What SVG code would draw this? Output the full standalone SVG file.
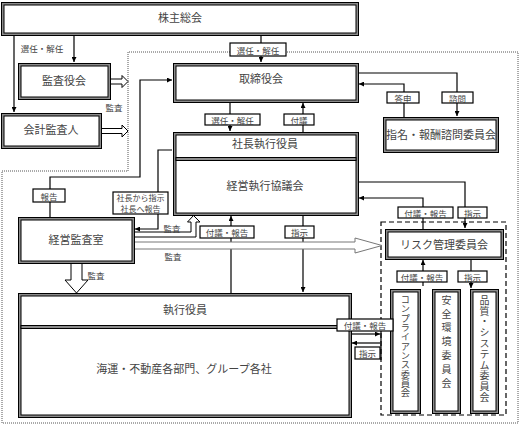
<svg xmlns="http://www.w3.org/2000/svg" width="519" height="424" viewBox="0 0 519 424">
<style>
.o{fill:#8c8c8c;stroke:#000;stroke-width:1}
.i{fill:#fff;stroke:#000;stroke-width:1}
.t{font-family:"Noto Sans CJK JP","Noto Sans",sans-serif;fill:#444;text-anchor:middle;dominant-baseline:central}
.m{font-size:11px}
.s{font-size:8.5px}
.lb{fill:#fff;stroke:#000;stroke-width:1.2}
.c{fill:none;stroke:#000;stroke-width:1.2}
.h{fill:#fff;stroke:#000;stroke-width:1}
.v{font-family:"Noto Sans CJK JP",sans-serif;fill:#444;font-size:10px;writing-mode:vertical-rl;text-anchor:start}
</style>
<defs>
<marker id="a" viewBox="0 0 6 6" refX="6" refY="3" markerWidth="5" markerHeight="5" orient="auto" markerUnits="userSpaceOnUse"><path d="M0,0L6,3L0,6z" fill="#000"/></marker>
</defs>
<rect width="519" height="424" fill="#fff"/>
<path d="M2,423V171H128V52H518V423Z" fill="none" stroke="#555" stroke-width="1" stroke-dasharray="1,1"/>
<rect x="381" y="222" width="125" height="193" fill="none" stroke="#000" stroke-width="1.2" stroke-dasharray="5,3"/>

<g id="connectors">
<path class="c" d="M14,35V112" marker-end="url(#a)"/>
<path class="c" d="M74,35V62" marker-end="url(#a)"/>
<path class="c" d="M261,35V62" marker-end="url(#a)"/>
<path class="c" d="M230,102V131" marker-end="url(#a)"/>
<path class="c" d="M303,132V103" marker-end="url(#a)"/>
<path class="c" d="M358,73H457V116" marker-end="url(#a)"/>
<path class="c" d="M404,117V84H359" marker-end="url(#a)"/>
<path class="c" d="M358,182H465V228" marker-end="url(#a)"/>
<path class="c" d="M423,229V198H359" marker-end="url(#a)"/>
<path class="c" d="M471,259V288" marker-end="url(#a)"/>
<path class="c" d="M423,286V260" marker-end="url(#a)"/>
<path class="c" d="M303,215V292" marker-end="url(#a)"/>
<path class="c" d="M231,293V216" marker-end="url(#a)"/>
<path class="c" d="M351,334H380" marker-end="url(#a)"/>
<path class="c" d="M380,343H352" marker-end="url(#a)"/>
<path class="c" d="M381,330V360"/>
<path class="c" d="M50,217V177H140V80H172" marker-end="url(#a)"/>
<path class="c" d="M172,150H158V229H135" marker-end="url(#a)"/>
<path class="h" d="M110,79H122V75.5L128,81.5L122,87.5V84H110Z"/>
<path class="h" d="M101,128.5H122V125L128,131L122,137V133.5H101Z"/>
<path class="h" d="M134,232H191V222H187.5L193.5,215.5L200,222H196V237H134Z"/>
<path d="M134,242H355V238L382,245.5L355,253V249H134Z" fill="#fff" stroke="#777" stroke-width="1"/>
<path class="h" d="M71,263V280H65L76.5,293L88,280H82V263Z"/>
</g>

<g id="n-kabunushi"><rect class="o" x="1.5" y="2.5" width="357" height="33"/><rect class="i" x="4" y="5" width="352" height="28"/><text class="t m" x="180" y="17">株主総会</text></g>
<g id="n-kansayakukai"><rect class="o" x="18.5" y="63.5" width="92" height="36"/><rect class="i" x="21" y="66" width="87" height="31"/><text class="t m" x="64" y="80">監査役会</text></g>
<g id="n-kaikei"><rect class="o" x="1.5" y="113.5" width="100" height="35"/><rect class="i" x="4" y="116" width="95" height="30"/><text class="t m" x="51" y="129">会計監査人</text></g>
<g id="n-torishimariyakukai"><rect class="o" x="173.5" y="63.5" width="185" height="39"/><rect class="i" x="176" y="66" width="180" height="34"/><text class="t m" x="261" y="78">取締役会</text></g>
<g id="n-shacho"><rect class="o" x="173.5" y="132.5" width="185" height="83"/><rect class="i" x="176" y="135" width="180" height="78"/><rect class="o" x="176" y="157.5" width="180" height="3"/><text class="t m" x="265" y="143">社長執行役員</text><text class="t m" x="265" y="185">経営執行協議会</text></g>
<g id="n-shimei"><rect class="o" x="383.5" y="117.5" width="115" height="35"/><rect class="i" x="386" y="120" width="110" height="30"/><text class="t m" x="441" y="134">指名・報酬諮問委員会</text></g>
<g id="n-keieikansa"><rect class="o" x="18.5" y="217.5" width="116" height="46"/><rect class="i" x="21" y="220" width="111" height="41"/><text class="t m" x="76" y="239">経営監査室</text></g>
<g id="n-risk"><rect class="o" x="385.5" y="229.5" width="118" height="30"/><rect class="i" x="388" y="232" width="113" height="25"/><text class="t m" x="444" y="244">リスク管理委員会</text></g>
<g id="n-shikko"><rect class="o" x="18.5" y="293.5" width="333" height="124"/><rect class="i" x="21" y="296" width="328" height="119"/><rect class="o" x="21" y="325.5" width="328" height="3"/><text class="t m" x="185" y="309">執行役員</text><text class="t m" x="184" y="368">海運・不動産各部門、グループ各社</text></g>
<g id="n-compliance"><rect class="o" x="390.5" y="289.5" width="30" height="124"/><rect class="i" x="393" y="292" width="25" height="119"/><text class="v" x="405.5" y="295" style="font-size:9.3px">コンプライアンス委員会</text></g>
<g id="n-anzen"><rect class="o" x="432.5" y="289.5" width="28" height="124"/><rect class="i" x="435" y="292" width="23" height="119"/><text class="v" x="446.5" y="295" letter-spacing="3.8">安全環境委員会</text></g>
<g id="n-hinshitsu"><rect class="o" x="470.5" y="289.5" width="28" height="124"/><rect class="i" x="473" y="292" width="23" height="119"/><text class="v" x="484.5" y="295" letter-spacing="0.8">品質・システム委員会</text></g>

<g id="labels">
<rect class="lb" x="230" y="43" width="56" height="13"/><text class="t s" x="258" y="49.5">選任・解任</text>
<rect class="lb" x="205" y="114" width="55" height="11"/><text class="t s" x="232.5" y="119.5">選任・解任</text>
<rect class="lb" x="284" y="114" width="30" height="11"/><text class="t s" x="299" y="119.5">付議</text>
<rect class="lb" x="387" y="92" width="32" height="11"/><text class="t s" x="403" y="97.5">答申</text>
<rect class="lb" x="442" y="92" width="31" height="11"/><text class="t s" x="457.5" y="97.5">諮問</text>
<rect class="lb" x="33" y="189" width="32" height="13"/><text class="t s" x="49" y="195.5">報告</text>
<rect class="lb" x="113" y="192" width="55" height="22"/><text class="t s" x="140.5" y="197.5" style="font-size:8px">社長から指示</text><text class="t s" x="140.5" y="208.5" style="font-size:8px">社長へ報告</text>
<rect class="lb" x="200" y="226" width="54" height="12"/><text class="t s" x="227" y="232">付議・報告</text>
<rect class="lb" x="285" y="226" width="29" height="12"/><text class="t s" x="299.5" y="232">指示</text>
<rect class="lb" x="398" y="207" width="55" height="11"/><text class="t s" x="425.5" y="212.5">付議・報告</text>
<rect class="lb" x="458" y="207" width="29" height="11"/><text class="t s" x="472.5" y="212.5">指示</text>
<rect class="lb" x="397" y="271" width="50" height="11"/><text class="t s" x="422" y="276.5">付議・報告</text>
<rect class="lb" x="458" y="271" width="29" height="11"/><text class="t s" x="472.5" y="276.5">指示</text>
<rect class="lb" x="337" y="319" width="56" height="12"/><text class="t s" x="365" y="325">付議・報告</text>
<rect class="lb" x="355" y="347" width="25" height="12"/><text class="t s" x="367.5" y="353">指示</text>
<text class="t s" x="42" y="48">選任・解任</text>
<text class="t s" x="114" y="107">監査</text>
<text class="t s" x="172" y="228">監査</text>
<text class="t s" x="173" y="256">監査</text>
<text class="t s" x="96" y="275">監査</text>
</g>
</svg>
